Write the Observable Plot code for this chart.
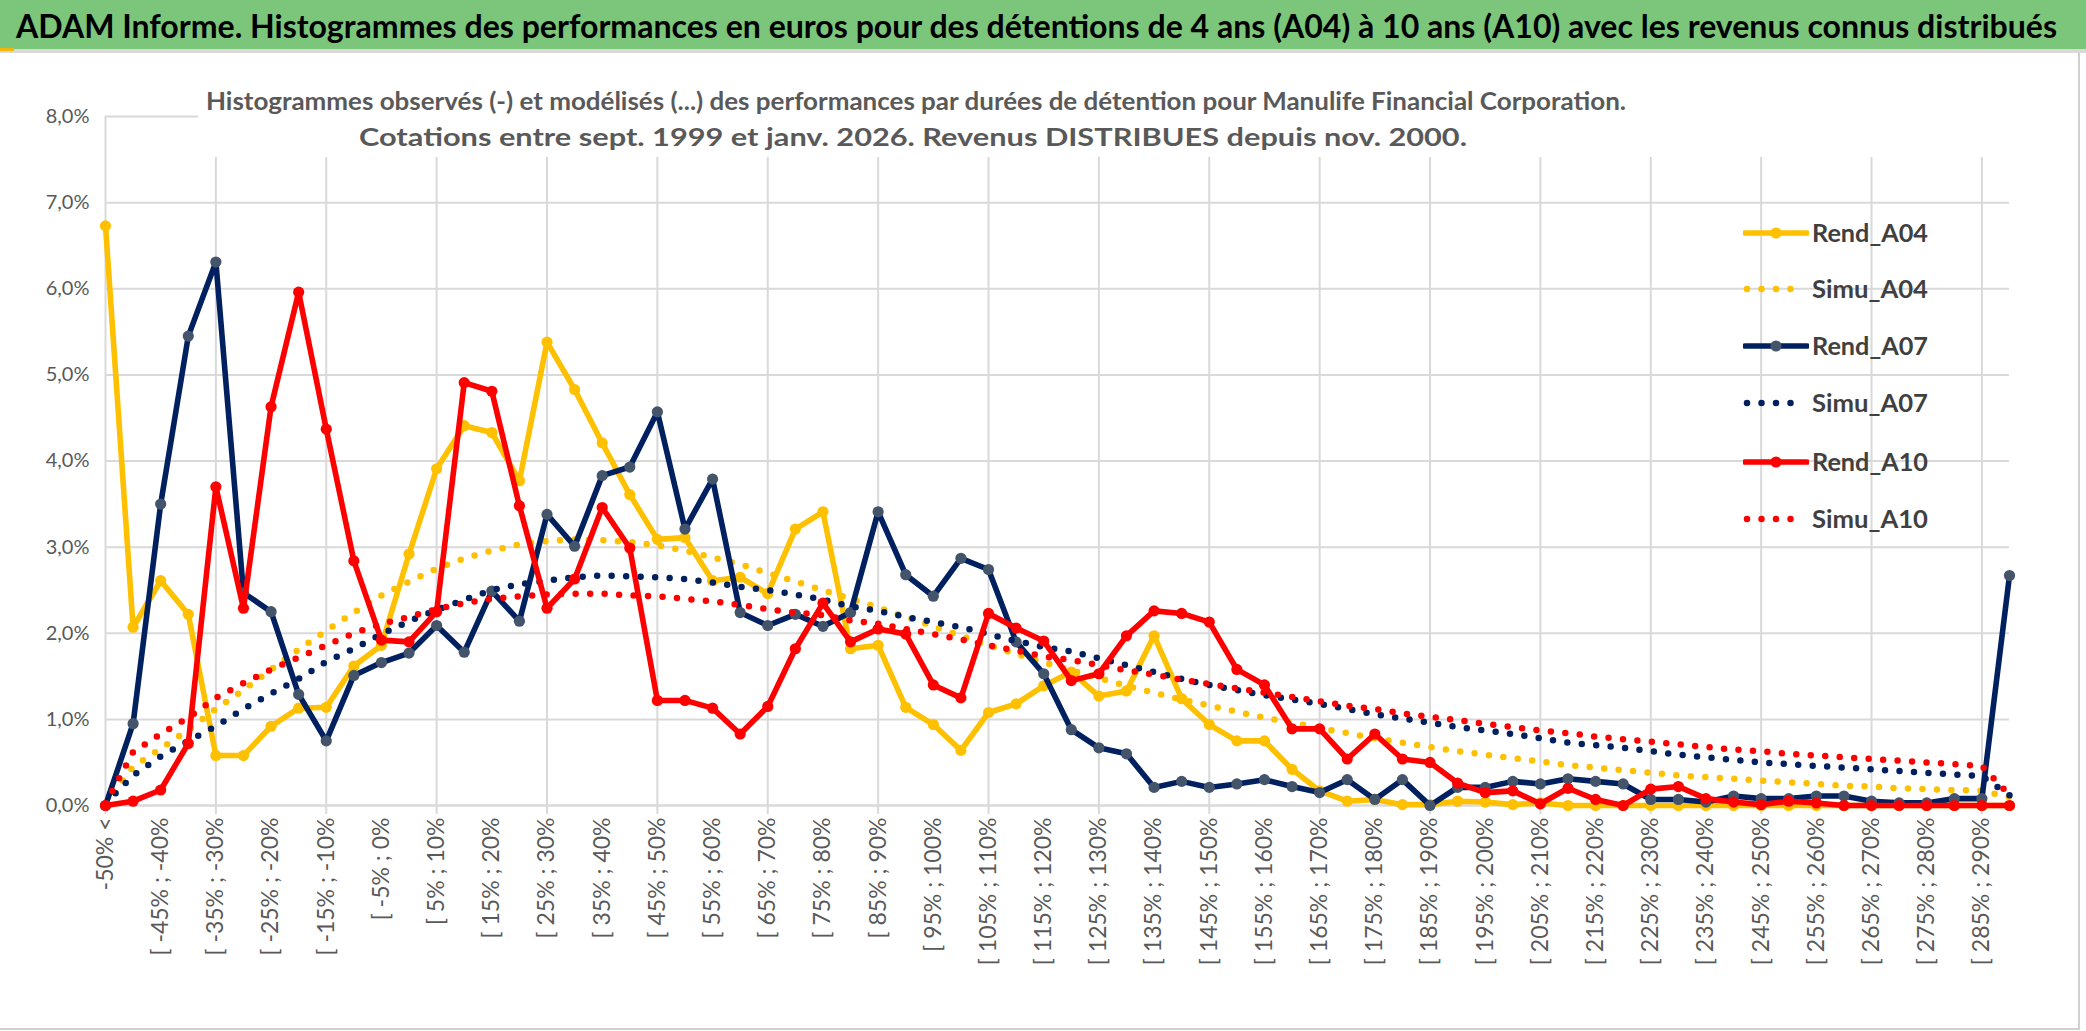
<!DOCTYPE html>
<html><head><meta charset="utf-8">
<script src="https://cdn.jsdelivr.net/npm/d3@7"></script>
<script src="https://cdn.jsdelivr.net/npm/@observablehq/plot@0.6"></script>
<style>
html,body{margin:0;padding:0;background:#fff;}
#root{position:relative;width:2086px;height:1031px;overflow:hidden;font-family:Lato,"Open Sans",sans-serif;background:#fff;}
#titlebar{position:absolute;left:0;top:0;width:2086px;height:49px;background:#7CC67B;}
#titlesep{position:absolute;left:0;top:49px;width:2086px;height:4px;background:#D9D9D9;}
#titlemark{position:absolute;left:0;top:48px;width:14px;height:3px;background:#F2B705;}
.fit{position:absolute;white-space:nowrap;transform-origin:left center;line-height:1;}
#title{left:16px;top:9px;font-weight:bold;font-size:33px;color:#000;}
#frame{position:absolute;left:0;top:53px;width:2078px;height:975px;border-right:2px solid #D0D0D0;border-bottom:2px solid #D0D0D0;box-sizing:content-box;}
#chart{position:absolute;left:0;top:53px;}
#subbox{position:absolute;left:198px;top:53px;width:1830px;height:104px;background:#fff;}
.sub{font-weight:bold;font-size:25px;color:#595959;}
#legend{position:absolute;left:1735px;top:213px;}
.lrow{position:absolute;left:0;height:40px;width:260px;}
.lrow svg{position:absolute;left:8px;top:0;}
.ltext{position:absolute;left:77px;top:8px;font-weight:bold;font-size:24px;color:#404040;white-space:nowrap;transform-origin:left center;line-height:1;}
</style></head>
<body>
<div id="root">
  <div id="titlebar"></div>
  <div id="titlesep"></div>
  <div id="titlemark"></div>
  <div id="title" class="fit" data-w="2041">ADAM Informe. Histogrammes des performances en euros pour des détentions de 4 ans (A04) à 10 ans (A10) avec les revenus connus distribués</div>
  <div id="frame"></div>
  <div id="chart"></div>
  <div id="subbox"></div>
  <div id="sub1" class="fit sub" data-w="1420" style="left:206px;top:88px;">Histogrammes observés (-) et modélisés (...) des performances par durées de détention pour Manulife Financial Corporation.</div>
  <div id="sub2" class="fit sub" data-w="1108" style="left:359px;top:125px;font-size:24px;">Cotations entre sept. 1999 et janv. 2026. Revenus DISTRIBUES depuis nov. 2000.</div>
  <div id="legend"></div>
</div>
<script>
// ---- categories (x axis) ----
const categories = [
"-50% <","[ -50% ; -45%","[ -45% ; -40%","[ -40% ; -35%","[ -35% ; -30%","[ -30% ; -25%","[ -25% ; -20%","[ -20% ; -15%","[ -15% ; -10%","[ -10% ; -5%",
"[ -5% ; 0%","[ 0% ; 5%","[ 5% ; 10%","[ 10% ; 15%","[ 15% ; 20%","[ 20% ; 25%","[ 25% ; 30%","[ 30% ; 35%","[ 35% ; 40%","[ 40% ; 45%",
"[ 45% ; 50%","[ 50% ; 55%","[ 55% ; 60%","[ 60% ; 65%","[ 65% ; 70%","[ 70% ; 75%","[ 75% ; 80%","[ 80% ; 85%","[ 85% ; 90%","[ 90% ; 95%",
"[ 95% ; 100%","[ 100% ; 105%","[ 105% ; 110%","[ 110% ; 115%","[ 115% ; 120%","[ 120% ; 125%","[ 125% ; 130%","[ 130% ; 135%","[ 135% ; 140%","[ 140% ; 145%",
"[ 145% ; 150%","[ 150% ; 155%","[ 155% ; 160%","[ 160% ; 165%","[ 165% ; 170%","[ 170% ; 175%","[ 175% ; 180%","[ 180% ; 185%","[ 185% ; 190%","[ 190% ; 195%",
"[ 195% ; 200%","[ 200% ; 205%","[ 205% ; 210%","[ 210% ; 215%","[ 215% ; 220%","[ 220% ; 225%","[ 225% ; 230%","[ 230% ; 235%","[ 235% ; 240%","[ 240% ; 245%",
"[ 245% ; 250%","[ 250% ; 255%","[ 255% ; 260%","[ 260% ; 265%","[ 265% ; 270%","[ 270% ; 275%","[ 275% ; 280%","[ 280% ; 285%","[ 285% ; 290%","> 290%"
];
// ---- series values (in %) ----
const rendA04 = [
6.73,2.07,2.61,2.22,0.58,0.58,0.92,1.13,1.14,1.62,
1.86,2.92,3.91,4.41,4.33,3.77,5.38,4.83,4.21,3.61,
3.09,3.11,2.61,2.65,2.46,3.21,3.41,1.82,1.86,1.14,
0.94,0.64,1.08,1.18,1.39,1.55,1.27,1.33,1.97,1.24,
0.94,0.75,0.75,0.42,0.17,0.05,0.07,0.01,0.01,0.05,
0.04,0.01,0.03,0,0,0,0,0,0,0,
0,0,0,0,0,0,0,0,0,0];
const simuA04 = [
0.02,0.45,0.66,0.88,1.12,1.34,1.58,1.81,2.03,2.24,
2.44,2.60,2.75,2.87,2.96,3.03,3.07,3.09,3.08,3.06,
3.02,2.96,2.88,2.80,2.70,2.60,2.50,2.40,2.30,2.19,
2.08,1.97,1.86,1.76,1.66,1.57,1.48,1.39,1.31,1.23,
1.16,1.09,1.02,0.96,0.90,0.84,0.78,0.73,0.68,0.63,
0.59,0.55,0.51,0.47,0.44,0.41,0.38,0.35,0.33,0.31,
0.29,0.27,0.25,0.23,0.22,0.20,0.19,0.18,0.17,0.10];
const rendA07 = [
0,0.95,3.50,5.45,6.31,2.47,2.25,1.29,0.75,1.51,
1.66,1.77,2.09,1.78,2.49,2.14,3.38,3.01,3.83,3.93,
4.57,3.21,3.79,2.24,2.09,2.22,2.08,2.24,3.41,2.68,
2.43,2.87,2.74,1.90,1.53,0.88,0.67,0.60,0.21,0.28,
0.21,0.25,0.30,0.22,0.15,0.30,0.07,0.30,0.00,0.21,
0.21,0.28,0.25,0.31,0.28,0.25,0.07,0.07,0.04,0.11,
0.08,0.08,0.11,0.11,0.05,0.03,0.03,0.08,0.08,2.67];
const simuA07 = [
0.02,0.35,0.57,0.75,0.92,1.12,1.30,1.47,1.67,1.82,
1.99,2.14,2.27,2.39,2.50,2.57,2.61,2.65,2.67,2.66,
2.65,2.63,2.59,2.54,2.50,2.45,2.39,2.31,2.26,2.19,
2.13,2.07,1.99,1.91,1.84,1.79,1.71,1.63,1.55,1.47,
1.40,1.34,1.28,1.23,1.18,1.12,1.06,1.01,0.96,0.91,
0.87,0.83,0.78,0.73,0.70,0.67,0.63,0.59,0.56,0.53,
0.50,0.48,0.46,0.44,0.42,0.40,0.38,0.36,0.34,0.12];
const rendA10 = [
0,0.05,0.18,0.72,3.70,2.29,4.63,5.96,4.37,2.84,
1.92,1.90,2.25,4.91,4.81,3.48,2.29,2.63,3.46,2.99,
1.22,1.22,1.13,0.83,1.15,1.82,2.35,1.90,2.05,1.99,
1.40,1.25,2.23,2.06,1.91,1.45,1.53,1.97,2.26,2.23,
2.13,1.58,1.40,0.89,0.89,0.54,0.83,0.54,0.50,0.26,
0.15,0.17,0.02,0.20,0.07,0.00,0.19,0.22,0.08,0.04,
0.01,0.05,0.03,0,0,0,0,0,0,0];
const simuA10 = [
0.02,0.62,0.83,1.02,1.25,1.42,1.58,1.72,1.86,2.00,
2.11,2.19,2.28,2.35,2.40,2.43,2.45,2.46,2.46,2.44,
2.43,2.40,2.37,2.33,2.28,2.24,2.21,2.15,2.11,2.05,
1.99,1.93,1.86,1.80,1.73,1.69,1.63,1.57,1.52,1.46,
1.41,1.36,1.31,1.26,1.21,1.16,1.12,1.07,1.03,0.99,
0.95,0.91,0.87,0.84,0.80,0.77,0.74,0.71,0.68,0.65,
0.63,0.60,0.58,0.56,0.54,0.52,0.50,0.48,0.46,0.12];
// ---- axis ticks ----
const yTicks = [0,1,2,3,4,5,6,7,8];
const xLabelTicks = categories.filter((d,i)=>i%2===0);
const xGridTicks = categories.filter((d,i)=>i%4===0);
const seriesNames = ["Rend_A04","Simu_A04","Rend_A07","Simu_A07","Rend_A10","Simu_A10"];
const seriesValues = [rendA04,simuA04,rendA07,simuA07,rendA10,simuA10];
const seriesColors = ["#FFC000","#FFC000","#002060","#002060","#FF0000","#FF0000"];
const markerColors = ["#FFC000",null,"#44546A",null,"#FF0000",null];

const fmtPct = d => d.toFixed(1).replace(".", ",") + "%";
const grid = "#D9D9D9";

const marks = [
  Plot.gridY(yTicks, {stroke: grid, strokeOpacity: 1, strokeWidth: 2}),
  Plot.gridX(xGridTicks, {stroke: grid, strokeOpacity: 1, strokeWidth: 2}),
  Plot.axisX({ticks: xGridTicks, tickSize: 9, stroke: grid, strokeWidth: 2, tickFormat: () => "", label: null}),
  Plot.axisX({ticks: xLabelTicks, tickSize: 0, tickPadding: 12, tickRotate: -90, fontSize: 23, fill: "#595959", label: null}),
  Plot.axisY({ticks: yTicks, tickSize: 0, tickPadding: 16, tickFormat: fmtPct, fontSize: 20, fill: "#595959", label: null}),
  Plot.ruleY([0], {stroke: grid, strokeWidth: 2})
];
seriesNames.forEach((name, k) => {
  const rows = categories.map((c, i) => ({cat: c, v: seriesValues[k][i], series: name}));
  if (name.startsWith("Simu")) {
    marks.push(Plot.line(rows, {x: "cat", y: "v", stroke: seriesColors[k], strokeWidth: 6.5, strokeDasharray: "0 14.5", strokeLinecap: "round", strokeLinejoin: "round"}));
  } else {
    marks.push(Plot.line(rows, {x: "cat", y: "v", stroke: seriesColors[k], strokeWidth: 5.6, strokeLinecap: "round", strokeLinejoin: "round"}));
    marks.push(Plot.dot(rows, {x: "cat", y: "v", r: 5.6, fill: markerColors[k], stroke: "none"}));
  }
});

const chart = Plot.plot({
  width: 2086, height: 978,
  marginTop: 63, marginBottom: 226, marginLeft: 105, marginRight: 77,
  x: {type: "point", domain: categories, padding: 0, axis: null},
  y: {domain: [0, 8], axis: null},
  style: {fontFamily: "Lato, 'Open Sans', sans-serif", background: "transparent", overflow: "visible"},
  marks
});
document.getElementById("chart").appendChild(chart);

// ---- legend ----
const legendTops = [0, 56, 113, 170, 229, 286];
const leg = document.getElementById("legend");
seriesNames.forEach((name, k) => {
  const row = document.createElement("div");
  row.className = "lrow";
  row.style.top = legendTops[k] + "px";
  const c = seriesColors[k];
  let svg;
  if (name.startsWith("Simu")) {
    svg = `<svg width="66" height="40"><line x1="4" y1="20" x2="62" y2="20" stroke="${c}" stroke-width="6.5" stroke-dasharray="0 14.5" stroke-linecap="round"/></svg>`;
  } else {
    svg = `<svg width="66" height="40"><line x1="2" y1="20" x2="64" y2="20" stroke="${c}" stroke-width="5.6" stroke-linecap="round"/><circle cx="33" cy="20" r="5.6" fill="${markerColors[k]}"/></svg>`;
  }
  row.innerHTML = svg + `<div class="ltext" data-w="116">${name}</div>`;
  leg.appendChild(row);
});

function fit() {
  document.querySelectorAll(".fit").forEach(el => {
    const target = +el.dataset.w;
    el.style.transform = "none";
    const w = el.getBoundingClientRect().width;
    if (w > 0) el.style.transform = `scaleX(${target / w})`;
  });
  document.querySelectorAll(".ltext").forEach(el => {
    el.style.transform = "none";
    const w = el.getBoundingClientRect().width;
    if (w > 0) el.style.transform = `scaleX(${116 / w})`;
  });
}
fit();
if (document.fonts && document.fonts.ready) document.fonts.ready.then(fit);
</script>
</body></html>
